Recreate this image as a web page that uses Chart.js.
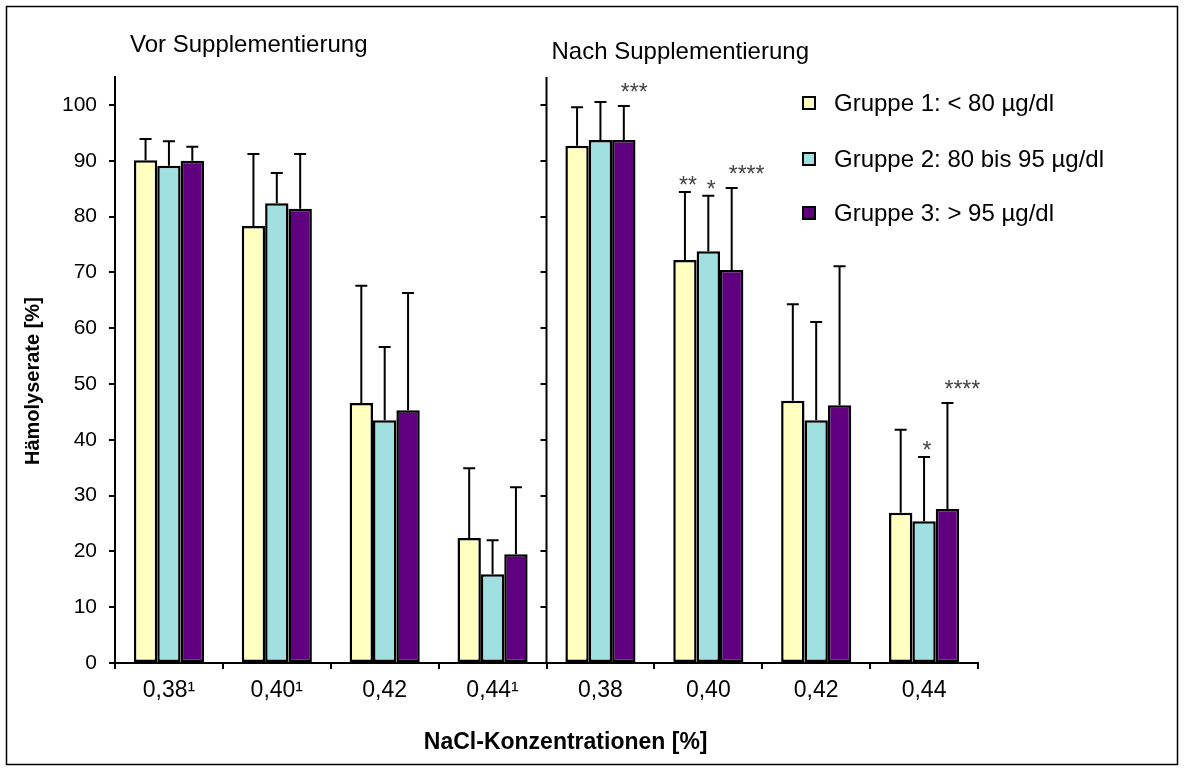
<!DOCTYPE html>
<html>
<head>
<meta charset="utf-8">
<script src="https://cdn.jsdelivr.net/npm/chart.js@4.4.0/dist/chart.umd.min.js"></script>
<style>
  html, body { margin: 0; padding: 0; background: #fff; }
</style>
</head>
<body>
<canvas id="haemolyseChart" width="1185" height="771"></canvas>
<script>
// Kategorien: erst vor, dann nach Supplementierung
const kategorien = ['0,38¹', '0,40¹', '0,42', '0,44¹', '0,38', '0,40', '0,42', '0,44'];

// Mittelwerte Hämolyserate [%]
const gruppe1 = [90.1, 78.3, 46.6, 22.4, 92.7, 72.2, 47.0, 26.9];
const gruppe2 = [89.1, 82.4, 43.5, 15.9, 93.7, 73.8, 43.5, 25.4];
const gruppe3 = [90.0, 81.4, 45.3, 19.5, 93.7, 70.4, 46.2, 27.6];

// Standardabweichungen (nur nach oben gezeichnet)
const sd1 = [3.8, 12.9, 21.0, 12.5, 6.9, 12.2, 17.3, 14.9];
const sd2 = [4.4, 5.4, 13.1, 6.1, 6.8, 9.9, 17.6, 11.5];
const sd3 = [2.5, 9.8, 21.0, 12.0, 6.1, 14.7, 24.9, 19.0];

// Signifikanz-Sternchen
const sterne1 = ['', '', '', '', '', '**', '', ''];
const sterne2 = ['', '', '', '', '', '*', '', '*'];
const sterne3 = ['', '', '', '', '***', '****', '', '****'];

const gruppenNamen = ['Gruppe 1: < 80 µg/dl', 'Gruppe 2: 80 bis 95 µg/dl', 'Gruppe 3: > 95 µg/dl'];
const panelTitel = ['Vor Supplementierung', 'Nach Supplementierung'];

const schrift = 'Liberation Sans, Arial, sans-serif';

// Fehlerbalken, Sternchen, mittlere Achse, Titel, Legende und Rahmen
const zusatzPlugin = {
    id: 'zusatz',
    beforeDraw(chart) {
        const c = chart.ctx;
        c.save();
        c.fillStyle = '#fff';
        c.fillRect(0, 0, chart.width, chart.height);
        c.restore();
    },
    afterDatasetsDraw(chart) {
        const c = chart.ctx;
        const y = chart.scales.y;
        c.save();
        chart.data.datasets.forEach((ds, i) => {
            const meta = chart.getDatasetMeta(i);
            meta.data.forEach((bar, j) => {
                const oben = y.getPixelForValue(ds.data[j] + ds.sd[j]);
                c.strokeStyle = '#000';
                c.lineWidth = 2;
                c.beginPath();
                c.moveTo(bar.x, bar.y);
                c.lineTo(bar.x, oben);
                c.moveTo(bar.x - 6, oben);
                c.lineTo(bar.x + 6, oben);
                c.stroke();

                const s = ds.sterne[j];
                if (s) {
                    c.fillStyle = '#444';
                    c.font = '23px ' + schrift;
                    c.textBaseline = 'alphabetic';
                    if (s.length <= 2) {
                        c.textAlign = 'center';
                        c.fillText(s, bar.x + 3, oben + 1);
                    } else {
                        c.textAlign = 'left';
                        c.fillText(s, bar.x - 3, oben - 6);
                    }
                }
            });
        });
        c.restore();
    },
    afterDraw(chart) {
        const c = chart.ctx;
        const x = chart.scales.x;
        const y = chart.scales.y;
        const area = chart.chartArea;
        const mitte = (x.getPixelForValue(3) + x.getPixelForValue(4)) / 2;
        c.save();

        // zweite y-Achse zwischen den beiden Hälften
        c.strokeStyle = '#000';
        c.lineWidth = 2;
        c.beginPath();
        c.moveTo(mitte, area.top);
        c.lineTo(mitte, area.bottom);
        y.ticks.forEach(t => {
            const py = Math.round(y.getPixelForValue(t.value));
            c.moveTo(mitte - 6, py);
            c.lineTo(mitte, py);
        });
        c.stroke();

        // Titel der beiden Hälften
        c.fillStyle = '#000';
        c.font = '24px ' + schrift;
        c.textAlign = 'left';
        c.textBaseline = 'middle';
        c.fillText(panelTitel[0], area.left + 15, 45);
        c.fillText(panelTitel[1], mitte + 5, 52);

        // Legende
        const lx = area.right - 175;
        const zeilen = [104, 160, 214];
        chart.data.datasets.forEach((ds, i) => {
            c.fillStyle = ds.backgroundColor;
            c.fillRect(lx, zeilen[i] - 7, 12, 12);
            c.strokeStyle = '#000';
            c.lineWidth = 2;
            c.strokeRect(lx, zeilen[i] - 7, 12, 12);
            c.fillStyle = '#000';
            c.font = '24px ' + schrift;
            c.fillText(gruppenNamen[i], lx + 31, zeilen[i]);
        });

        // Rahmen
        c.strokeStyle = '#000';
        c.lineWidth = 1.5;
        c.strokeRect(6.5, 6.5, 1171, 758);
        c.restore();
    }
};

const ctx = document.getElementById('haemolyseChart').getContext('2d');

const haemolyseChart = new Chart(ctx, {
    type: 'bar',
    data: {
        labels: kategorien,
        datasets: [
            { label: gruppenNamen[0], data: gruppe1, sd: sd1, sterne: sterne1, backgroundColor: '#ffffc0' },
            { label: gruppenNamen[1], data: gruppe2, sd: sd2, sterne: sterne2, backgroundColor: '#a0e0e0' },
            { label: gruppenNamen[2], data: gruppe3, sd: sd3, sterne: sterne3, backgroundColor: '#600080' }
        ]
    },
    options: {
        responsive: false,
        animation: false,
        layout: { padding: { left: 17, top: 77, right: 207, bottom: 11 } },
        datasets: {
            bar: {
                categoryPercentage: 0.65,
                barPercentage: 1.0,
                borderColor: '#000',
                borderWidth: 2.5,
                borderSkipped: false
            }
        },
        plugins: {
            legend: { display: false },
            tooltip: { enabled: false }
        },
        scales: {
            x: {
                grid: { offset: true, drawOnChartArea: false, tickLength: 6, color: '#000', lineWidth: 2 },
                border: { color: '#000', width: 2 },
                ticks: { color: '#000', font: { family: schrift, size: 23 }, padding: 8, maxRotation: 0 },
                title: {
                    display: true,
                    // führende Leerzeichen rücken den Titel etwas nach rechts wie im Original
                    text: '      NaCl-Konzentrationen [%]',
                    color: '#000',
                    font: { family: schrift, size: 23, weight: 'bold' }
                },
                afterFit(scale) { scale.height = 97; }
            },
            y: {
                min: 0,
                max: 105,
                grid: { drawOnChartArea: false, tickLength: 6, color: '#000', lineWidth: 2 },
                border: { color: '#000', width: 2 },
                ticks: { stepSize: 10, color: '#000', font: { family: schrift, size: 21 }, padding: 12 },
                afterBuildTicks(scale) { scale.ticks = scale.ticks.filter(t => t.value <= 100); },
                title: {
                    display: true,
                    text: 'Hämolyserate [%]    ',
                    color: '#000',
                    font: { family: schrift, size: 20, weight: 'bold' }
                },
                afterFit(scale) { scale.width = 98; }
            }
        }
    },
    plugins: [zusatzPlugin]
});
</script>
</body>
</html>
